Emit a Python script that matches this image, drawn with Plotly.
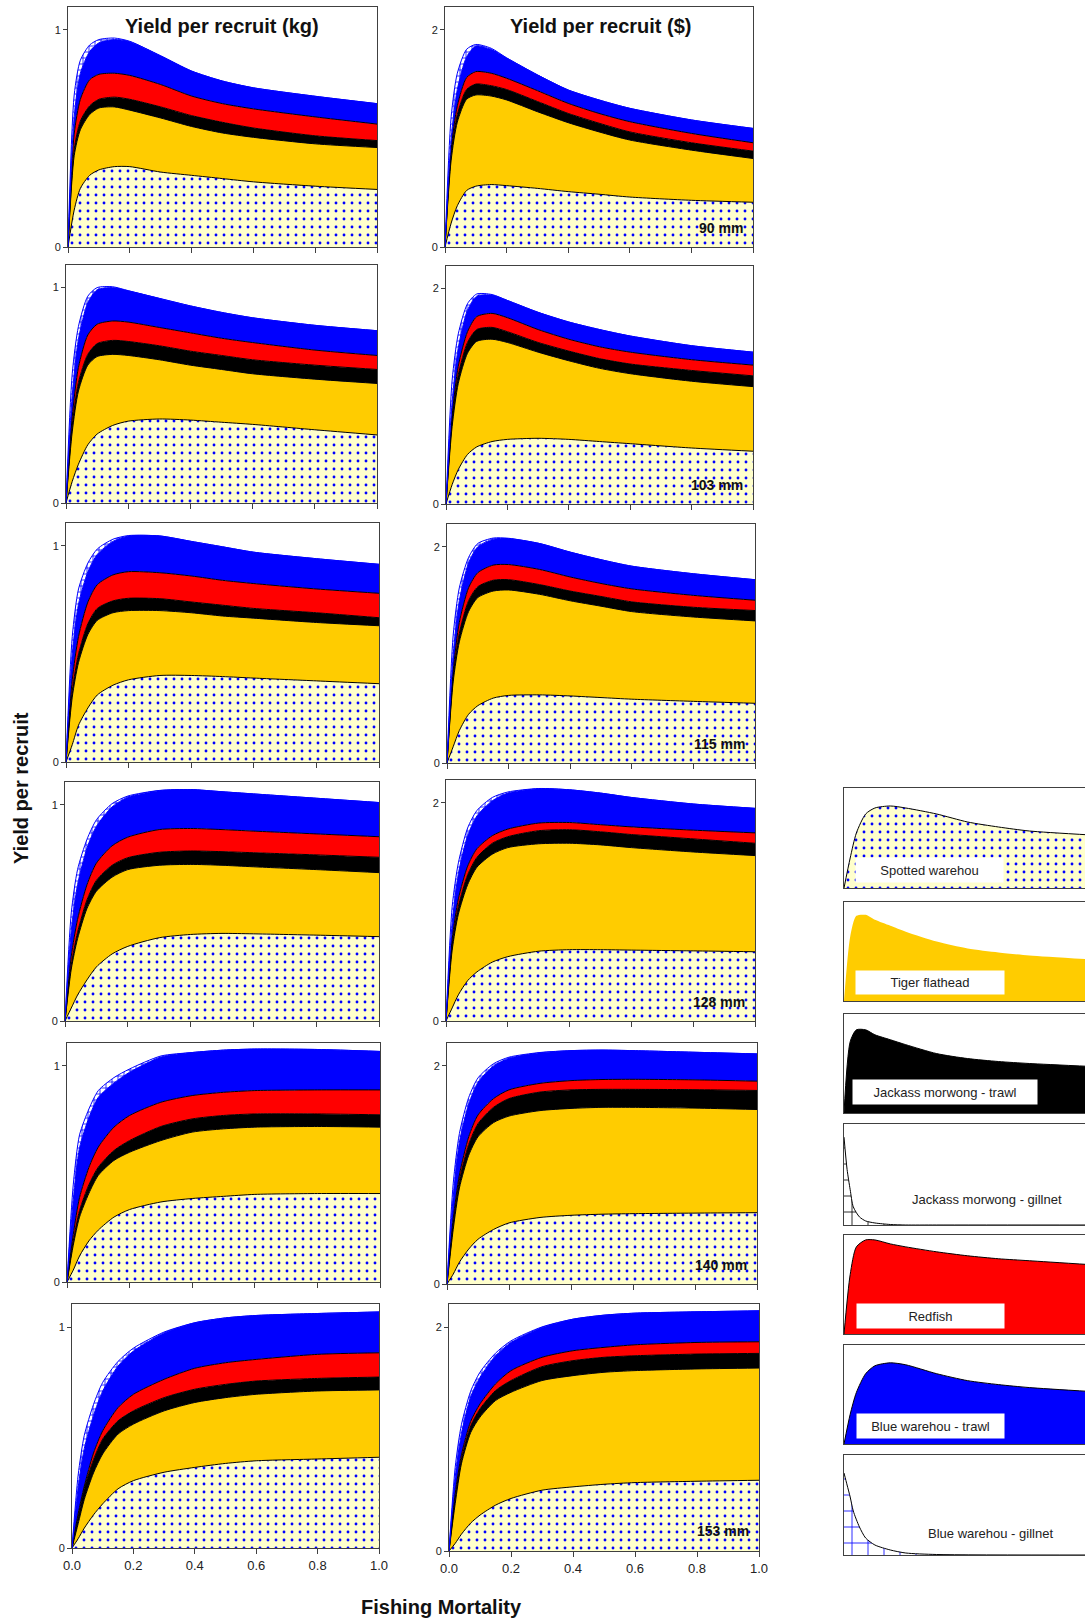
import plotly.graph_objects as go

W, H = 1085, 1622
FONT = "Liberation Sans, Arial, sans-serif"

# Fishing mortality grid shared by every panel
F = [0, 0.02, 0.04, 0.07, 0.1, 0.15, 0.2, 0.3, 0.4, 0.5, 0.6, 0.8, 1.0]
MESH_MM = [90, 103, 115, 128, 140, 153]

# Cumulative yield per recruit: top of each fishery's band, stacked as
# spotted warehou, tiger flathead, jackass morwong (trawl), redfish,
# blue warehou (trawl), blue warehou (gillnet, i.e. total).

# ---- kg ----
kg90_spotted = [0, 0.17, 0.27, 0.33, 0.355, 0.37, 0.37, 0.345, 0.33, 0.315, 0.30, 0.28, 0.265]
kg90_flathead = [0, 0.42, 0.54, 0.61, 0.64, 0.645, 0.63, 0.594, 0.555, 0.525, 0.505, 0.475, 0.458]
kg90_morwong = [0, 0.45, 0.58, 0.65, 0.68, 0.69, 0.68, 0.645, 0.605, 0.574, 0.548, 0.512, 0.49]
kg90_redfish = [0, 0.52, 0.68, 0.77, 0.795, 0.80, 0.79, 0.748, 0.695, 0.66, 0.636, 0.599, 0.566]
kg90_bluetrawl = [0, 0.6, 0.8, 0.9, 0.94, 0.955, 0.945, 0.88, 0.81, 0.764, 0.733, 0.694, 0.66]
kg90_total = [0, 0.7, 0.86, 0.93, 0.955, 0.962, 0.947, 0.88, 0.81, 0.764, 0.733, 0.694, 0.66]

kg103_spotted = [0, 0.1, 0.18, 0.27, 0.32, 0.36, 0.38, 0.39, 0.385, 0.375, 0.365, 0.34, 0.316]
kg103_flathead = [0, 0.33, 0.52, 0.64, 0.68, 0.69, 0.685, 0.665, 0.64, 0.62, 0.6, 0.575, 0.555]
kg103_morwong = [0, 0.36, 0.56, 0.69, 0.74, 0.755, 0.75, 0.73, 0.705, 0.685, 0.665, 0.64, 0.62]
kg103_redfish = [0, 0.4, 0.63, 0.78, 0.83, 0.845, 0.84, 0.815, 0.79, 0.765, 0.745, 0.71, 0.685]
kg103_bluetrawl = [0, 0.5, 0.76, 0.93, 0.99, 1.0, 0.985, 0.95, 0.915, 0.885, 0.86, 0.825, 0.80]
kg103_total = [0, 0.6, 0.82, 0.96, 1.0, 1.004, 0.986, 0.95, 0.915, 0.885, 0.86, 0.825, 0.80]

kg115_spotted = [0, 0.08, 0.17, 0.25, 0.31, 0.355, 0.38, 0.4, 0.4, 0.395, 0.388, 0.375, 0.362]
kg115_flathead = [0, 0.3, 0.46, 0.59, 0.655, 0.69, 0.7, 0.7, 0.69, 0.675, 0.665, 0.645, 0.63]
kg115_morwong = [0, 0.33, 0.5, 0.64, 0.71, 0.745, 0.757, 0.755, 0.74, 0.725, 0.71, 0.69, 0.667]
kg115_redfish = [0, 0.38, 0.58, 0.74, 0.82, 0.865, 0.88, 0.875, 0.86, 0.84, 0.825, 0.8, 0.78]
kg115_bluetrawl = [0, 0.5, 0.73, 0.88, 0.96, 1.02, 1.045, 1.045, 1.02, 0.995, 0.97, 0.94, 0.914]
kg115_total = [0, 0.58, 0.8, 0.92, 0.985, 1.03, 1.047, 1.045, 1.02, 0.995, 0.97, 0.94, 0.914]

kg128_spotted = [0, 0.06, 0.12, 0.19, 0.25, 0.31, 0.345, 0.385, 0.4, 0.405, 0.403, 0.397, 0.39]
kg128_flathead = [0, 0.24, 0.38, 0.52, 0.6, 0.665, 0.7, 0.72, 0.724, 0.72, 0.713, 0.7, 0.686]
kg128_morwong = [0, 0.26, 0.41, 0.56, 0.65, 0.72, 0.755, 0.78, 0.786, 0.783, 0.778, 0.768, 0.757]
kg128_redfish = [0, 0.3, 0.47, 0.63, 0.73, 0.81, 0.85, 0.885, 0.89, 0.885, 0.878, 0.865, 0.852]
kg128_bluetrawl = [0, 0.42, 0.63, 0.8, 0.9, 0.99, 1.035, 1.065, 1.07, 1.06, 1.05, 1.03, 1.01]
kg128_total = [0, 0.5, 0.7, 0.84, 0.93, 1.005, 1.04, 1.066, 1.07, 1.06, 1.05, 1.03, 1.01]

kg140_spotted = [0, 0.055, 0.12, 0.19, 0.24, 0.3, 0.335, 0.37, 0.386, 0.396, 0.405, 0.409, 0.409]
kg140_flathead = [0, 0.17, 0.3, 0.41, 0.493, 0.562, 0.6, 0.654, 0.693, 0.708, 0.716, 0.719, 0.716]
kg140_morwong = [0, 0.19, 0.33, 0.45, 0.531, 0.608, 0.654, 0.719, 0.754, 0.77, 0.777, 0.777, 0.773]
kg140_redfish = [0, 0.22, 0.39, 0.53, 0.624, 0.716, 0.77, 0.831, 0.862, 0.877, 0.885, 0.888, 0.888]
kg140_bluetrawl = [0, 0.38, 0.62, 0.76, 0.854, 0.92, 0.97, 1.04, 1.061, 1.072, 1.077, 1.075, 1.066]
kg140_total = [0, 0.45, 0.68, 0.8, 0.885, 0.945, 0.985, 1.045, 1.061, 1.072, 1.077, 1.075, 1.066]

kg153_spotted = [0, 0.042, 0.09, 0.15, 0.2, 0.268, 0.305, 0.343, 0.365, 0.383, 0.395, 0.403, 0.411]
kg153_flathead = [0, 0.11, 0.22, 0.34, 0.426, 0.516, 0.561, 0.621, 0.659, 0.681, 0.696, 0.711, 0.716]
kg153_morwong = [0, 0.14, 0.27, 0.4, 0.493, 0.576, 0.621, 0.681, 0.719, 0.741, 0.756, 0.768, 0.774]
kg153_redfish = [0, 0.155, 0.28, 0.43, 0.531, 0.636, 0.696, 0.764, 0.814, 0.839, 0.854, 0.877, 0.884]
kg153_bluetrawl = [0, 0.275, 0.45, 0.6, 0.711, 0.824, 0.892, 0.974, 1.02, 1.042, 1.053, 1.062, 1.069]
kg153_total = [0, 0.33, 0.51, 0.65, 0.75, 0.845, 0.905, 0.978, 1.02, 1.042, 1.053, 1.062, 1.069]

# ---- $ ----
usd90_spotted = [0, 0.22, 0.38, 0.52, 0.56, 0.575, 0.565, 0.54, 0.51, 0.486, 0.46, 0.43, 0.412]
usd90_flathead = [0, 0.8, 1.15, 1.36, 1.40, 1.39, 1.354, 1.246, 1.145, 1.06, 0.985, 0.892, 0.815]
usd90_morwong = [0, 0.85, 1.22, 1.45, 1.50, 1.485, 1.45, 1.34, 1.23, 1.14, 1.06, 0.96, 0.883]
usd90_redfish = [0, 0.9, 1.3, 1.56, 1.615, 1.6, 1.554, 1.44, 1.323, 1.23, 1.154, 1.046, 0.96]
usd90_bluetrawl = [0, 1.0, 1.45, 1.75, 1.85, 1.82, 1.74, 1.585, 1.446, 1.354, 1.277, 1.17, 1.092]
usd90_total = [0, 1.2, 1.6, 1.82, 1.865, 1.83, 1.742, 1.585, 1.446, 1.354, 1.277, 1.17, 1.092]

usd103_spotted = [0, 0.18, 0.32, 0.46, 0.53, 0.58, 0.6, 0.61, 0.6, 0.58, 0.56, 0.52, 0.49]
usd103_flathead = [0, 0.72, 1.12, 1.4, 1.51, 1.53, 1.5, 1.41, 1.33, 1.26, 1.21, 1.14, 1.09]
usd103_morwong = [0, 0.78, 1.2, 1.5, 1.62, 1.64, 1.6, 1.5, 1.42, 1.35, 1.3, 1.24, 1.19]
usd103_redfish = [0, 0.82, 1.28, 1.6, 1.74, 1.77, 1.73, 1.62, 1.53, 1.46, 1.41, 1.34, 1.29]
usd103_bluetrawl = [0, 0.95, 1.45, 1.8, 1.93, 1.94, 1.89, 1.78, 1.69, 1.62, 1.56, 1.47, 1.41]
usd103_total = [0, 1.15, 1.58, 1.86, 1.95, 1.945, 1.89, 1.78, 1.69, 1.62, 1.56, 1.47, 1.41]

usd115_spotted = [0, 0.15, 0.3, 0.45, 0.53, 0.6, 0.625, 0.63, 0.62, 0.605, 0.59, 0.57, 0.552]
usd115_flathead = [0, 0.75, 1.12, 1.4, 1.53, 1.59, 1.6, 1.56, 1.5, 1.45, 1.4, 1.35, 1.314]
usd115_morwong = [0, 0.8, 1.2, 1.5, 1.63, 1.69, 1.695, 1.65, 1.59, 1.54, 1.49, 1.44, 1.41]
usd115_redfish = [0, 0.85, 1.3, 1.62, 1.76, 1.83, 1.835, 1.79, 1.72, 1.66, 1.61, 1.55, 1.505]
usd115_bluetrawl = [0, 1.0, 1.5, 1.85, 2.0, 2.07, 2.075, 2.03, 1.95, 1.88, 1.82, 1.75, 1.695]
usd115_total = [0, 1.18, 1.62, 1.9, 2.03, 2.08, 2.078, 2.03, 1.95, 1.88, 1.82, 1.75, 1.695]

usd128_spotted = [0, 0.12, 0.24, 0.37, 0.45, 0.54, 0.59, 0.64, 0.654, 0.654, 0.65, 0.643, 0.635]
usd128_flathead = [0, 0.65, 0.98, 1.25, 1.41, 1.53, 1.59, 1.625, 1.63, 1.615, 1.59, 1.55, 1.517]
usd128_morwong = [0, 0.7, 1.05, 1.34, 1.5, 1.63, 1.69, 1.745, 1.754, 1.735, 1.71, 1.67, 1.63]
usd128_redfish = [0, 0.75, 1.12, 1.42, 1.58, 1.7, 1.76, 1.815, 1.82, 1.8, 1.78, 1.75, 1.725]
usd128_bluetrawl = [0, 0.9, 1.35, 1.7, 1.88, 2.02, 2.09, 2.13, 2.12, 2.09, 2.05, 1.99, 1.95]
usd128_total = [0, 1.05, 1.45, 1.77, 1.93, 2.05, 2.1, 2.132, 2.12, 2.09, 2.05, 1.99, 1.95]

usd140_spotted = [0, 0.09, 0.2, 0.32, 0.41, 0.5, 0.56, 0.61, 0.63, 0.64, 0.645, 0.65, 0.654]
usd140_flathead = [0, 0.5, 0.88, 1.18, 1.35, 1.48, 1.54, 1.59, 1.61, 1.62, 1.62, 1.613, 1.6]
usd140_morwong = [0, 0.55, 0.95, 1.28, 1.47, 1.62, 1.7, 1.76, 1.78, 1.785, 1.785, 1.782, 1.775]
usd140_redfish = [0, 0.6, 1.0, 1.35, 1.55, 1.7, 1.78, 1.84, 1.865, 1.875, 1.877, 1.872, 1.86]
usd140_bluetrawl = [0, 0.8, 1.3, 1.65, 1.85, 2.0, 2.07, 2.12, 2.14, 2.145, 2.14, 2.125, 2.11]
usd140_total = [0, 0.92, 1.38, 1.71, 1.89, 2.02, 2.08, 2.123, 2.14, 2.145, 2.14, 2.125, 2.11]

usd153_spotted = [0, 0.068, 0.15, 0.25, 0.321, 0.41, 0.47, 0.544, 0.574, 0.597, 0.612, 0.624, 0.633]
usd153_flathead = [0, 0.425, 0.78, 1.06, 1.198, 1.346, 1.42, 1.525, 1.569, 1.599, 1.614, 1.629, 1.637]
usd153_morwong = [0, 0.47, 0.82, 1.12, 1.272, 1.435, 1.525, 1.649, 1.703, 1.733, 1.747, 1.762, 1.768]
usd153_redfish = [0, 0.514, 0.86, 1.16, 1.316, 1.495, 1.614, 1.733, 1.792, 1.822, 1.845, 1.866, 1.872]
usd153_bluetrawl = [0, 0.663, 1.05, 1.38, 1.554, 1.747, 1.866, 2.0, 2.074, 2.11, 2.128, 2.14, 2.149]
usd153_total = [0, 0.75, 1.13, 1.43, 1.6, 1.77, 1.88, 2.005, 2.074, 2.11, 2.128, 2.14, 2.149]

# ---- key panels: single-fishery curves (relative scale) ----
KEY_F = [0, 0.02, 0.04, 0.07, 0.1, 0.15, 0.2, 0.3, 0.4, 0.5, 0.6, 0.8]
key_spotted = [0, 0.3, 0.55, 0.74, 0.8, 0.82, 0.8, 0.74, 0.66, 0.61, 0.57, 0.53]
key_flathead = [0, 0.65, 0.86, 0.87, 0.82, 0.76, 0.7, 0.6, 0.53, 0.49, 0.46, 0.42]
key_morwong_trawl = [0, 0.72, 0.84, 0.84, 0.79, 0.74, 0.69, 0.6, 0.55, 0.52, 0.5, 0.47]
key_redfish = [0, 0.6, 0.88, 0.95, 0.95, 0.91, 0.88, 0.83, 0.79, 0.76, 0.74, 0.70]
key_bluewarehou_trawl = [0, 0.3, 0.52, 0.71, 0.79, 0.82, 0.8, 0.71, 0.64, 0.6, 0.57, 0.53]
KEY_F_GILLNET = [0, 0.01, 0.02, 0.03, 0.05, 0.07, 0.1, 0.15, 0.2, 0.3, 0.8]
key_morwong_gillnet = [0.87, 0.55, 0.35, 0.18, 0.08, 0.04, 0.02, 0.005, 0, 0, 0]
key_bluewarehou_gillnet = [0.82, 0.7, 0.58, 0.44, 0.28, 0.17, 0.1, 0.05, 0.02, 0.005, 0]

KG_PANELS = {
    90: [kg90_spotted, kg90_flathead, kg90_morwong, kg90_redfish, kg90_bluetrawl, kg90_total],
    103: [kg103_spotted, kg103_flathead, kg103_morwong, kg103_redfish, kg103_bluetrawl, kg103_total],
    115: [kg115_spotted, kg115_flathead, kg115_morwong, kg115_redfish, kg115_bluetrawl, kg115_total],
    128: [kg128_spotted, kg128_flathead, kg128_morwong, kg128_redfish, kg128_bluetrawl, kg128_total],
    140: [kg140_spotted, kg140_flathead, kg140_morwong, kg140_redfish, kg140_bluetrawl, kg140_total],
    153: [kg153_spotted, kg153_flathead, kg153_morwong, kg153_redfish, kg153_bluetrawl, kg153_total],
}
USD_PANELS = {
    90: [usd90_spotted, usd90_flathead, usd90_morwong, usd90_redfish, usd90_bluetrawl, usd90_total],
    103: [usd103_spotted, usd103_flathead, usd103_morwong, usd103_redfish, usd103_bluetrawl, usd103_total],
    115: [usd115_spotted, usd115_flathead, usd115_morwong, usd115_redfish, usd115_bluetrawl, usd115_total],
    128: [usd128_spotted, usd128_flathead, usd128_morwong, usd128_redfish, usd128_bluetrawl, usd128_total],
    140: [usd140_spotted, usd140_flathead, usd140_morwong, usd140_redfish, usd140_bluetrawl, usd140_total],
    153: [usd153_spotted, usd153_flathead, usd153_morwong, usd153_redfish, usd153_bluetrawl, usd153_total],
}

DOTS = dict(shape=".", fgcolor="#0000FF", bgcolor="#FFFFCC", size=8, solidity=0.1, fillmode="replace")
LAYERS = [
    dict(fill="#FFFFCC", line="#000000", pattern=DOTS),
    dict(fill="#FFCC00", line="#000000"),
    dict(fill="#000000", line="#000000"),
    dict(fill="#FF0000", line="#000000"),
    dict(fill="#0000FF", line="#0000FF"),
    dict(fill="#FFFFFF", line="#0000FF",
         pattern=dict(shape="+", fgcolor="#0000FF", bgcolor="#FFFFFF", size=6, solidity=0.25, fillmode="replace")),
]

# Panel boxes in page pixels: (left, right, top, bottom)
LEFT_BOXES = [(68, 377, 7, 247), (66, 377, 265, 503), (66, 379, 523, 762),
              (65, 379, 782, 1021), (67, 380, 1043, 1282), (72, 379, 1304, 1548)]
RIGHT_BOXES = [(445, 753, 7, 247), (446, 753, 266, 504), (447, 755, 524, 763),
               (446, 755, 780, 1021), (447, 757, 1043, 1284), (449, 759, 1304, 1551)]
KEY_TOPS = [(788, 888), (902, 1001), (1014, 1113), (1124, 1225), (1235, 1334), (1345, 1444), (1455, 1555)]
KEY_LEFT = 844

AXIS_COLOR = "#404040"
fig = go.Figure()
layout = {}


def ax_names(i):
    s = "" if i == 1 else str(i)
    return "x" + s, "y" + s, "xaxis" + s, "yaxis" + s


def dom_x(a, b):
    return [a / W, min(b / W, 1.0)]


def dom_y(top, bottom):
    return [1 - bottom / H, 1 - top / H]


def add_panel(i, box, tops, ymax, ytick, last_row):
    xr, yr, xk, yk = ax_names(i)
    for k, (style, y) in enumerate(zip(LAYERS, tops)):
        tr = go.Scatter(
            x=F, y=y, xaxis=xr, yaxis=yr, mode="lines",
            line=dict(color=style["line"], width=1, shape="spline", smoothing=0.7),
            fill="tozeroy" if k == 0 else "tonexty", fillcolor=style["fill"],
            showlegend=False, hoverinfo="skip")
        if "pattern" in style:
            tr.update(fillpattern=style["pattern"])
        fig.add_trace(tr)
    left, right, top, bottom = box
    layout[xk] = dict(
        domain=dom_x(left, right), range=[0, 1], anchor=yr, automargin=False,
        showline=True, mirror=True, linecolor=AXIS_COLOR, linewidth=1,
        ticks="outside", ticklen=5, tickcolor=AXIS_COLOR,
        tickvals=[0, 0.2, 0.4, 0.6, 0.8, 1.0], tickformat=".1f",
        showticklabels=last_row, tickfont=dict(size=13, color="#222", family=FONT),
        showgrid=False, zeroline=False, fixedrange=True)
    layout[yk] = dict(
        domain=dom_y(top, bottom), range=[0, ymax], anchor=xr, automargin=False,
        showline=True, mirror=True, linecolor=AXIS_COLOR, linewidth=1,
        ticks="outside", ticklen=4, tickcolor=AXIS_COLOR,
        tickvals=[0, ytick], tickfont=dict(size=11, color="#222", family=FONT),
        showgrid=False, zeroline=False, fixedrange=True)


annotations = []
idx = 1
for r, mesh in enumerate(MESH_MM):
    add_panel(idx, LEFT_BOXES[r], KG_PANELS[mesh], 1.105, 1, r == 5)
    idx += 1
    add_panel(idx, RIGHT_BOXES[r], USD_PANELS[mesh], 2.21, 2, r == 5)
    annotations.append(dict(
        text=f"<b>{mesh} mm</b>", xref=f"x{idx} domain", yref=f"y{idx} domain",
        x=0.975, y=0.08, xanchor="right", yanchor="middle", showarrow=False,
        font=dict(size=14, color="#111", family=FONT)))
    idx += 1

# Key panels: one fishery each
KEYS = [
    ("Spotted warehou", KEY_F, key_spotted, dict(fill="#FFFFCC", line="#000000", pattern=DOTS), (856, 1003, 858, 882)),
    ("Tiger flathead", KEY_F, key_flathead, dict(fill="#FFCC00", line="rgba(0,0,0,0)"), (856, 1004, 971, 994)),
    ("Jackass morwong - trawl", KEY_F, key_morwong_trawl, dict(fill="#000000", line="#000000"), (853, 1037, 1080, 1104)),
    ("Jackass morwong - gillnet", KEY_F_GILLNET, key_morwong_gillnet,
     dict(fill="#FFFFFF", line="#000000",
          pattern=dict(shape="+", fgcolor="#000000", bgcolor="#FFFFFF", size=16, solidity=0.1, fillmode="replace")),
     (987, 1199)),
    ("Redfish", KEY_F, key_redfish, dict(fill="#FF0000", line="#000000"), (857, 1004, 1304, 1328)),
    ("Blue warehou - trawl", KEY_F, key_bluewarehou_trawl, dict(fill="#0000FF", line="#000000"), (857, 1004, 1414, 1438)),
    ("Blue warehou - gillnet", KEY_F_GILLNET, key_bluewarehou_gillnet,
     dict(fill="#FFFFFF", line="#000000",
          pattern=dict(shape="+", fgcolor="#0000FF", bgcolor="#FFFFFF", size=16, solidity=0.1, fillmode="replace")),
     (990, 1533)),
]

for k, (label, fx, fy, style, lab) in enumerate(KEYS):
    xr, yr, xk, yk = ax_names(idx)
    tr = go.Scatter(x=fx, y=fy, xaxis=xr, yaxis=yr, mode="lines",
                    line=dict(color=style["line"], width=1, shape="spline", smoothing=0.7),
                    fill="tozeroy", fillcolor=style["fill"], showlegend=False, hoverinfo="skip")
    if "pattern" in style:
        tr.update(fillpattern=style["pattern"])
    fig.add_trace(tr)
    top, bottom = KEY_TOPS[k]
    layout[xk] = dict(domain=dom_x(KEY_LEFT, W), range=[0, 0.78], anchor=yr, automargin=False,
                      showline=True, mirror=True, linecolor=AXIS_COLOR, linewidth=1,
                      showticklabels=False, ticks="", showgrid=False, zeroline=False, fixedrange=True)
    layout[yk] = dict(domain=dom_y(top, bottom), range=[0, 1], anchor=xr, automargin=False,
                      showline=True, mirror=False, linecolor=AXIS_COLOR, linewidth=1,
                      showticklabels=False, ticks="", showgrid=False, zeroline=False, fixedrange=True)
    if len(lab) == 4:
        x0, x1, y0, y1 = lab
        annotations.append(dict(
            text=label, xref="paper", yref="paper", x=(x0 + x1) / 2 / W, y=1 - (y0 + y1) / 2 / H,
            xanchor="center", yanchor="middle", showarrow=False, bgcolor="#FFFFFF",
            width=x1 - x0, height=y1 - y0, borderpad=0, align="center",
            font=dict(size=13, color="#222", family=FONT)))
    else:
        cx, cy = lab
        annotations.append(dict(
            text=label, xref="paper", yref="paper", x=cx / W, y=1 - cy / H,
            xanchor="center", yanchor="middle", showarrow=False,
            font=dict(size=13, color="#222", family=FONT)))
    idx += 1

# Column headings and shared axis titles
annotations += [
    dict(text="<b>Yield per recruit (kg)</b>", x=222 / W, y=1 - 26 / H),
    dict(text="<b>Yield per recruit ($)</b>", x=601 / W, y=1 - 26 / H),
    dict(text="<b>Fishing Mortality</b>", x=441 / W, y=1 - 1607 / H),
    dict(text="<b>Yield per recruit</b>", x=21 / W, y=1 - 788 / H, textangle=-90),
]
for a in annotations[-4:]:
    a.update(xref="paper", yref="paper", xanchor="center", yanchor="middle",
             showarrow=False, font=dict(size=20, color="#111", family=FONT))

fig.update_layout(
    width=W, height=H, margin=dict(l=0, r=0, t=0, b=0, pad=0, autoexpand=False),
    paper_bgcolor="#FFFFFF", plot_bgcolor="#FFFFFF",
    font=dict(family=FONT, color="#222"),
    annotations=annotations, showlegend=False, **layout)

fig.write_html("out.html", config={"displayModeBar": False})
